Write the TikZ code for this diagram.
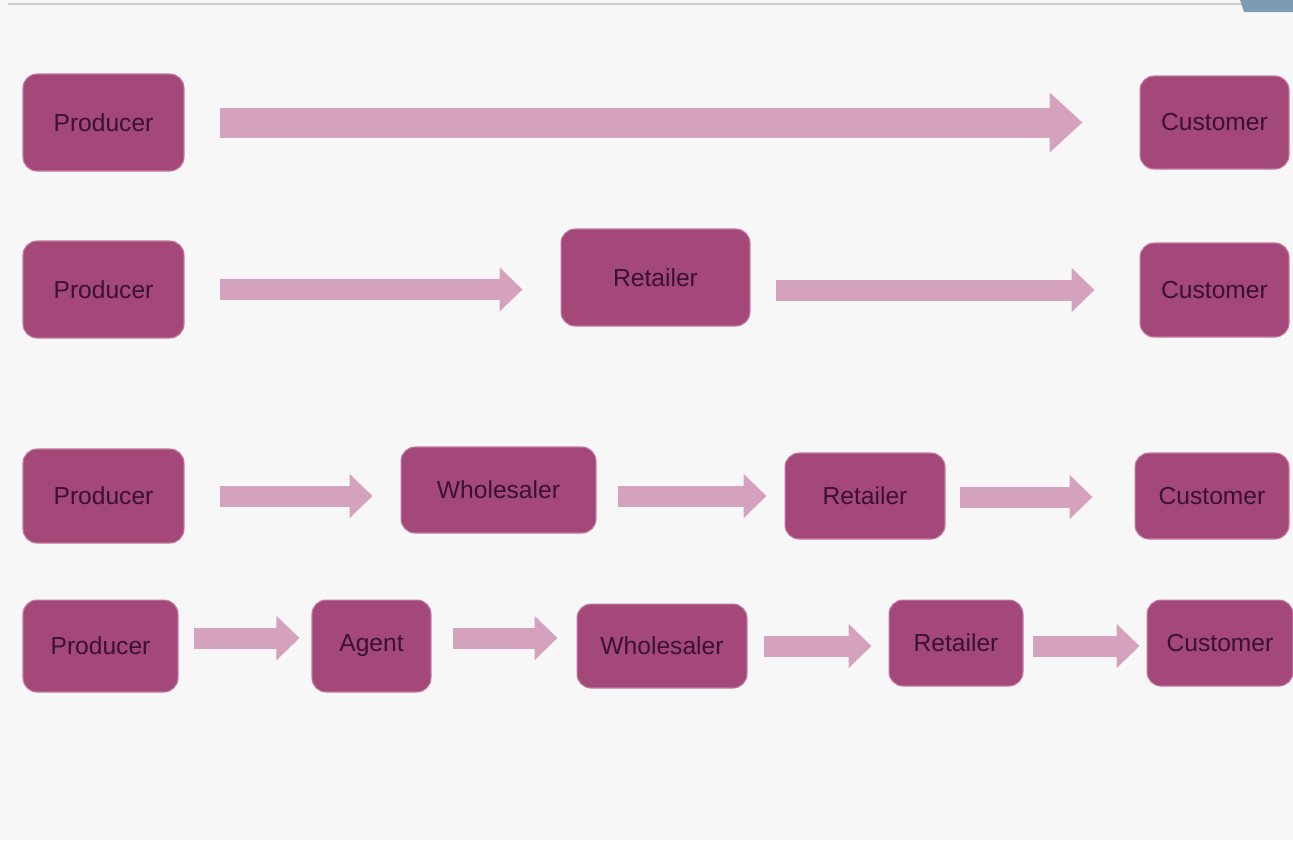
\documentclass[tikz,border=0pt]{standalone}
\usepackage{fontspec}
\setmainfont{Liberation Sans}
\usepackage{xcolor}
\usetikzlibrary{arrows.meta,calc}
\definecolor{boxrose}{HTML}{A4487A}
\definecolor{boxedge}{HTML}{C27A9F}
\definecolor{flowpink}{HTML}{D4A2BD}
\definecolor{boxtext}{HTML}{3A1230}
\definecolor{paper}{HTML}{F8F7F8}
\definecolor{cornerslate}{HTML}{7D9CB3}

\begin{document}
\begin{tikzpicture}[x=0.02cm,y=-0.02cm,
  stage/.style={rectangle,rounded corners=8pt,fill=boxrose,draw=boxedge,line width=0.6pt,
    inner sep=0pt,text=boxtext,font=\fontsize{14}{16}\selectfont},
  flow/.style={draw=flowpink,line width=0.42cm,-{Triangle[width=0.86cm,length=0.46cm]},flowpink},
  bigflow/.style={draw=flowpink,line width=0.6cm,-{Triangle[width=1.16cm,length=0.66cm]},flowpink}]
\fill[paper] (0,0) rectangle (1293,840);
\useasboundingbox (0,0) rectangle (1293,840);
\draw[gray!40,line width=1pt] (8,4) -- (1245,4);
\fill[cornerslate] (1240,0) -- (1293,0) -- (1293,12) -- (1244,12) -- cycle;

% row 1
\node[stage,minimum width=3.22cm,minimum height=1.94cm] (p1) at (103.5,122.5) {Producer};
\node[stage,minimum width=2.98cm,minimum height=1.86cm] (c1) at (1214.5,122.5) {Customer};
\draw[bigflow] ($(p1.east)+(35,0)$) -- ($(c1.west)+(-57,0)$);

% row 2
\node[stage,minimum width=3.22cm,minimum height=1.94cm] (p2) at (103.5,289.5) {Producer};
\node[stage,minimum width=3.78cm,minimum height=1.94cm] (r2) at (655.5,277.5) {Retailer};
\node[stage,minimum width=2.98cm,minimum height=1.88cm] (c2) at (1214.5,290) {Customer};
\draw[flow] ($(p2.east)+(35,0)$) -- ($(r2.west |- p2.east)+(-38,0)$);
\draw[flow] ($(r2.east |- c2.west)+(25,0)$) -- ($(c2.west)+(-45,0)$);

% row 3
\node[stage,minimum width=3.22cm,minimum height=1.88cm] (p3) at (103.5,496) {Producer};
\node[stage,minimum width=3.9cm,minimum height=1.72cm] (w3) at (498.5,490) {Wholesaler};
\node[stage,minimum width=3.2cm,minimum height=1.72cm] (r3) at (865,496) {Retailer};
\node[stage,minimum width=3.08cm,minimum height=1.72cm] (c3) at (1212,496) {Customer};
\draw[flow] ($(p3.east)+(35,0)$) -- ($(w3.west |- p3.east)+(-28,0)$);
\draw[flow] ($(w3.east |- r3.west)+(21,0)$) -- ($(r3.west)+(-18,0)$);
\draw[flow] ($(r3.east)+(14,1)$) -- ($(c3.west)+(-42,1)$);

% row 4
\node[stage,minimum width=3.1cm,minimum height=1.84cm] (p4) at (100.5,646) {Producer};
\node[stage,minimum width=2.38cm,minimum height=1.84cm] (a4) at (371.5,646) {Agent};
\node[stage,minimum width=3.4cm,minimum height=1.68cm] (w4) at (662,646) {Wholesaler};
\node[stage,minimum width=2.68cm,minimum height=1.72cm] (r4) at (956,643) {Retailer};
\node[stage,minimum width=2.92cm,minimum height=1.72cm] (c4) at (1220,643) {Customer};
\draw[flow] ($(p4.east)+(15,-8)$) -- ($(a4.west)+(-12,-8)$);
\draw[flow] ($(a4.east)+(21,-8)$) -- ($(w4.west)+(-19,-8)$);
\draw[flow] ($(w4.east)+(16,0)$) -- ($(r4.west |- w4.east)+(-17,0)$);
\draw[flow] ($(r4.east |- w4.east)+(9,0)$) -- ($(c4.west |- w4.east)+(-7,0)$);
\end{tikzpicture}
\end{document}
